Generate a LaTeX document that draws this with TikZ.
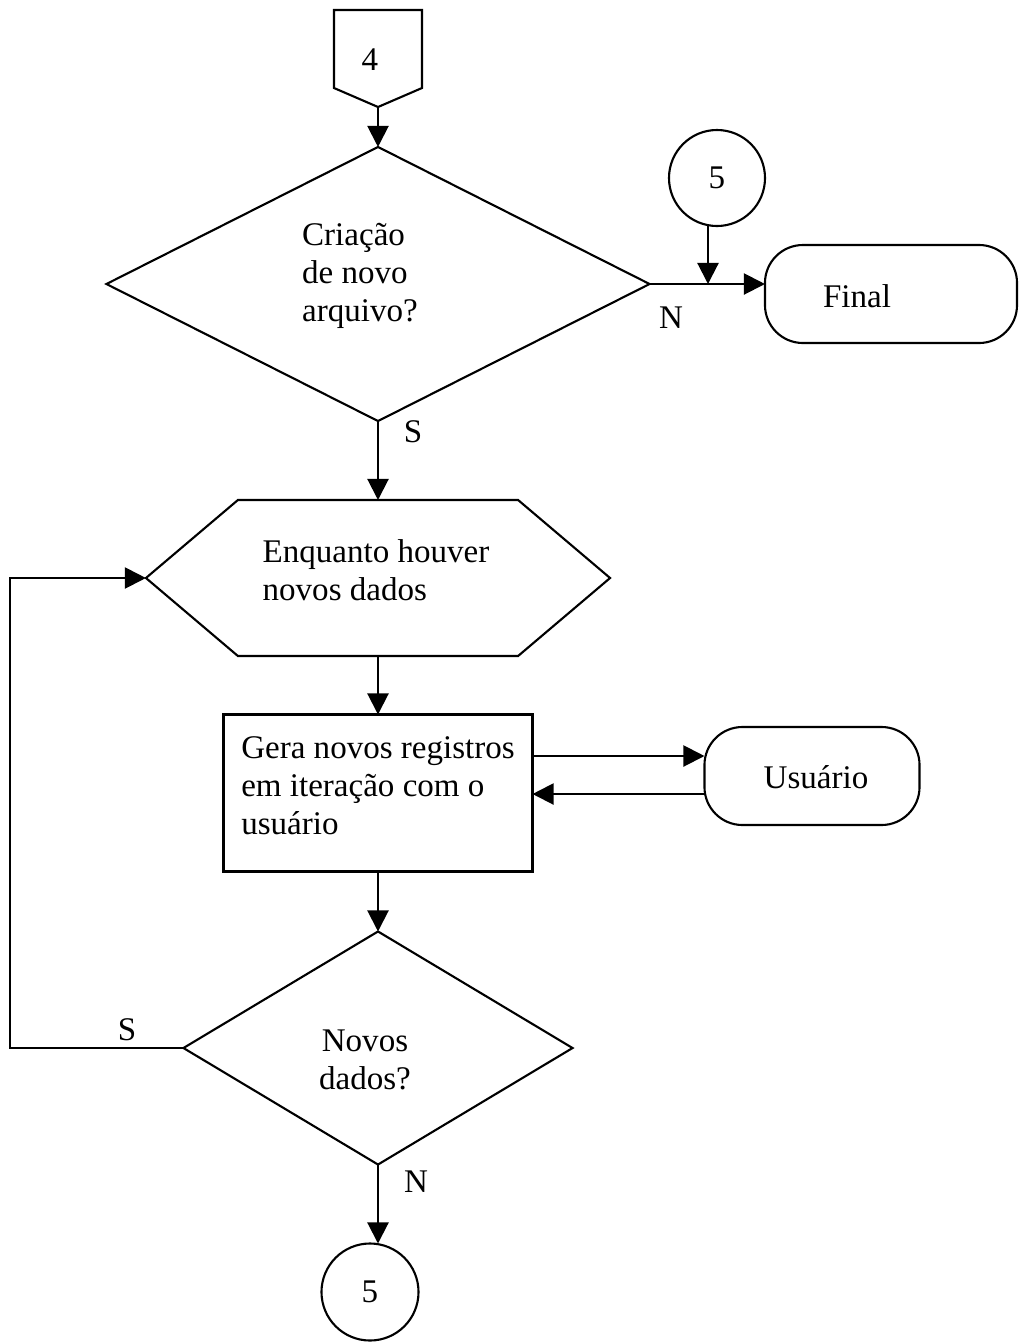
\documentclass[tikz,border=0pt]{standalone}
\usepackage{fontspec}
\setmainfont{Liberation Serif}
\usetikzlibrary{shapes.geometric,arrows.meta,calc}
\begin{document}
\begin{tikzpicture}[x=0.025cm,y=-0.025cm,
  line width=1.5pt,
  every node/.style={font=\fontsize{23.5}{27}\selectfont, inner sep=0pt, outer sep=0pt},
  arr/.style={-{Triangle[length=15pt,width=15pt]}},
  decision/.style={draw, diamond},
  term/.style={draw, rectangle, rounded corners=0.95cm},
  proc/.style={draw, rectangle},
  conn/.style={draw, circle},
  txt/.style={align=left},
  lbl/.style={}]
\useasboundingbox (0,0) rectangle (1024,1343);

% off-page connector 4
\draw (334,10) -- (422,10) -- (422,88) -- (378,107) -- (334,88) -- cycle;
\node (c4) at (370,60) {4};
\coordinate (c4tip) at (378,107);

% first decision
\node[decision, minimum width=13.575cm, minimum height=6.85cm] (q1) at (378,284) {};
\node[txt] (q1t) at (360,276) {Criação\\de novo\\arquivo?};
\node[lbl] (q1n) at (671,318) {N};
\node[lbl] (q1s) at (413,432) {S};

% connector 5 and end
\node[conn, minimum size=2.4cm] (c5a) at (717,178) {5};
\node[term, minimum width=6.3cm, minimum height=2.45cm] (final) at (891,294) {};
\node (finalt) at (857,296) {Final};
\coordinate (j1) at (708,284);

% loop header
\node[minimum width=11.6cm, minimum height=3.9cm] (hex) at (378,578) {};
\draw (hex.west) -- ($(hex.north west)+(92,0)$) -- ($(hex.north east)+(-92,0)$)
  -- (hex.east) -- ($(hex.south east)+(-92,0)$) -- ($(hex.south west)+(92,0)$) -- cycle;
\node[txt] (hext) at (376,570) {Enquanto houver\\novos dados};

% process
\node[proc, minimum width=7.725cm, minimum height=3.925cm] (proc) at (378,793) {};
\node[txt] (proct) at (378,786) {Gera novos registros\\em iteração com o\\usuário};

% user terminal
\node[term, minimum width=5.375cm, minimum height=2.45cm] (user) at (812,776) {};
\node (usert) at (816,777) {Usuário};

% second decision
\node[decision, minimum width=9.725cm, minimum height=5.825cm] (q2) at (378,1048) {};
\node[align=center] (q2t) at (365,1060) {Novos\\dados?};
\node[lbl] (q2s) at (127,1030) {S};
\node[lbl] (q2n) at (416,1182) {N};
\coordinate (lc) at (10,578);

% connector 5 (bottom)
\node[conn, minimum size=2.425cm] (c5b) at (370,1292) {5};

% connections
\draw[arr] (c4tip) -- (q1.north);
\draw[arr] (q1.east) -- (q1.east -| final.west);
\draw[arr] (c5a.south -| j1) -- (j1);
\draw[arr] (q1.south) -- (hex.north);
\draw[arr] (hex.south) -- (proc.north);
\draw[arr] (proc.east |- 0,756) -- (user.west |- 0,756);
\draw[arr] (user.west |- 0,794) -- (proc.east |- 0,794);
\draw[arr] (proc.south) -- (q2.north);
\draw[arr] (q2.west) -| (lc) -- (hex.west);
\draw[arr] (q2.south) -- (q2.south |- c5b.north);
\end{tikzpicture}
\end{document}
